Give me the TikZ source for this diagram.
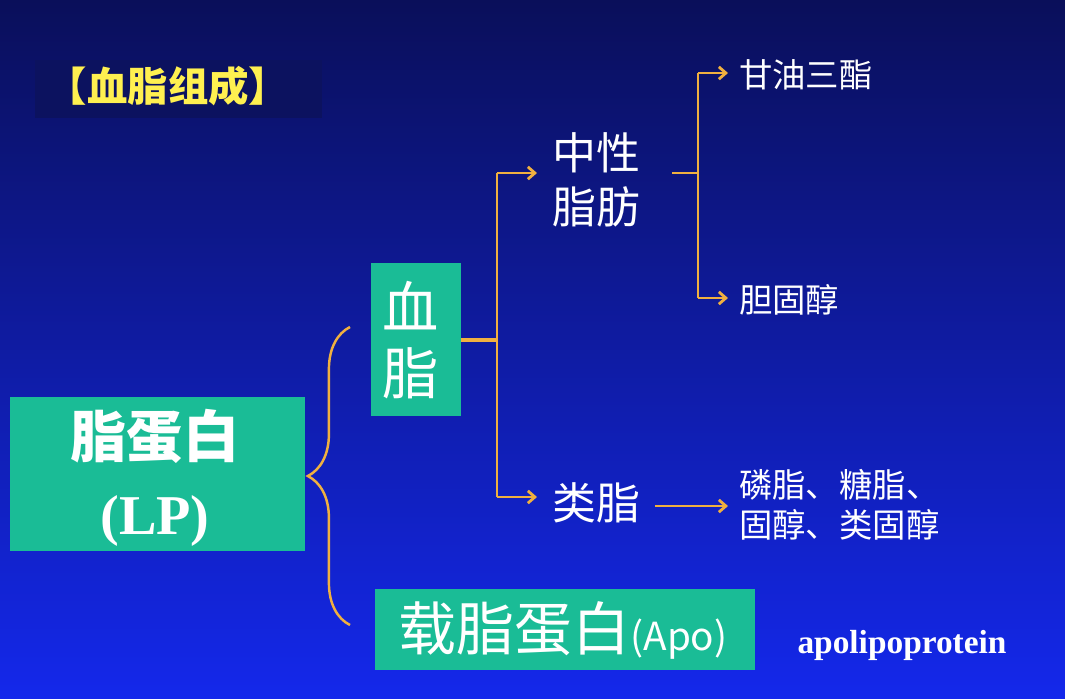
\documentclass[tikz,border=0pt]{standalone}
\usepackage{fontspec}
\newfontfamily\cjk{Noto Sans CJK SC}
\setmainfont{Liberation Serif}
\usetikzlibrary{arrows.meta,decorations.pathreplacing}
\definecolor{teal}{RGB}{26,188,150}
\definecolor{lineorange}{RGB}{240,176,64}
\definecolor{titleyellow}{RGB}{255,240,80}
\definecolor{bgtop}{RGB}{10,15,90}
\definecolor{bgbottom}{RGB}{20,40,235}
\definecolor{titlebg}{RGB}{12,18,95}
\tikzset{
tealbox/.style={fill=teal,inner sep=0pt,text=white},
link/.style={lineorange,line width=1.6pt},
arr/.style={link,-{Straight Barb[length=4pt,width=7pt]}},
}
\begin{document}
\begin{tikzpicture}[x=0.02cm,y=-0.02cm]
        \useasboundingbox (0,0) rectangle (1065,698);
        \shade[top color=bgtop, bottom color=bgbottom] (0,0) rectangle (1065,698);

        % title
        \fill[titlebg] (35,60) rectangle (322,118);
        \node[text=titleyellow, font=\cjk\fontsize{23}{26}\selectfont\bfseries] (title) at (168,86) {【血脂组成】};

        % boxes
        \fill[tealbox] (10,397) rectangle (305,551);
        \node[text=white, align=center, font=\fontsize{32}{44}\selectfont\bfseries] (lp) at (155,478) {{\cjk 脂蛋白}\\(LP)};
        \fill[tealbox] (371,263) rectangle (461,416);
        \node[text=white, align=center, font=\cjk\fontsize{32}{38}\selectfont] (xz) at (411,340) {血\\脂};
        \fill[tealbox] (375,589) rectangle (755,670);
        \node[text=white, font=\cjk\fontsize{33}{36}\selectfont] (apo) at (563,630) {载脂蛋白\fontsize{22}{24}\selectfont(Apo)};
        \node[text=white, font=\fontsize{19}{22}\selectfont\bfseries] (apoen) at (902,645) {apolipoprotein};

        % brace
        \draw[lineorange, line width=1.4pt, decoration={brace,amplitude=24pt}, decorate] (350,625) -- (350,327);

        % neutral fat branch
        \coordinate (j1) at (497,340);
        \draw[link, double=lineorange, double distance=1pt, line width=0.6pt] (461,340) -- (j1);
        \draw[link] (497,173) -- (497,497);
        \draw[arr] (497,173) -- (537,173);
        \draw[arr] (497,497) -- (537,497);
        \node[text=white, align=center, font=\cjk\fontsize{25}{31}\selectfont] (zxzf) at (596,180) {中性\\脂肪};
        \node[text=white, font=\cjk\fontsize{25}{28}\selectfont] (lz) at (596,503) {类脂};

        \draw[link] (672,173) -- (698,173);
        \draw[link] (698,73) -- (698,298);
        \draw[arr] (698,73) -- (728,73);
        \draw[arr] (698,298) -- (728,298);
        \node[text=white, anchor=west, font=\cjk\fontsize{19}{22}\selectfont] (gy) at (733,75) {甘油三酯};
        \node[text=white, anchor=west, font=\cjk\fontsize{19}{22}\selectfont] (dgc) at (733,300) {胆固醇};

        \draw[arr] (655,506) -- (728,506);
        \node[text=white, anchor=west, align=left, font=\cjk\fontsize{19}{23}\selectfont] (lzz) at (733,505) {磷脂、糖脂、\\固醇、类固醇};
\end{tikzpicture}
\end{document}
